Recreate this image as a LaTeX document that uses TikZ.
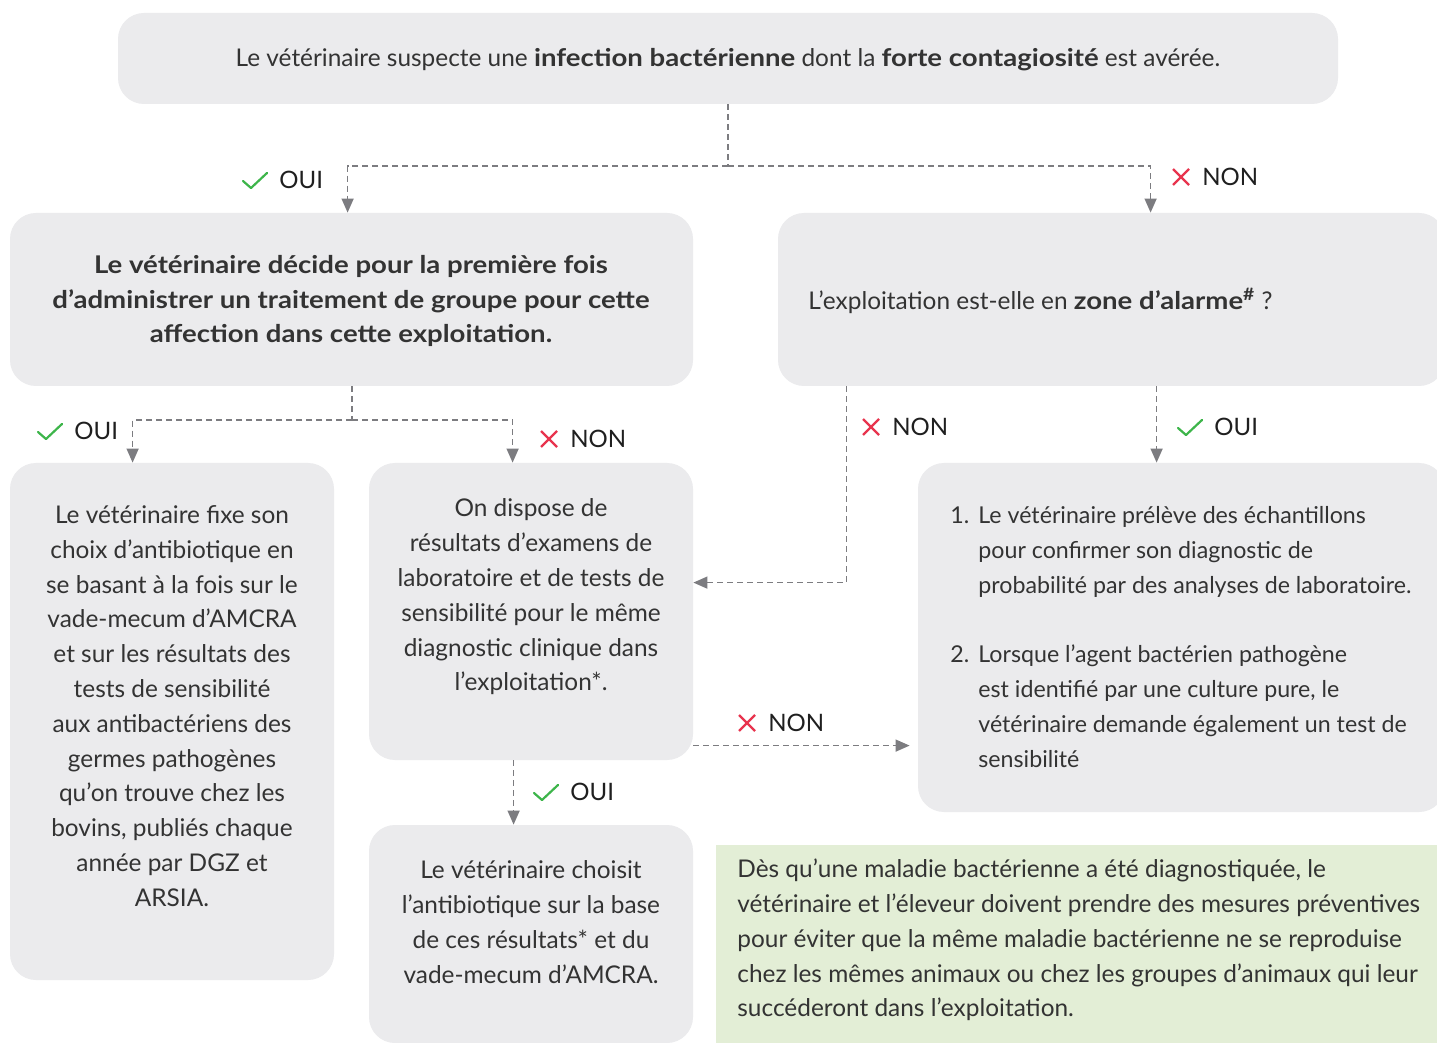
\documentclass[tikz,border=0pt]{standalone}
\usepackage{fontspec}
\setmainfont{Lato}[BoldFeatures={FakeStretch=1.13}]
\usetikzlibrary{arrows.meta,calc,fit}
\definecolor{boxgray}{HTML}{EBEBED}
\definecolor{txtc}{HTML}{333333}
\definecolor{conngray}{HTML}{7C7C80}
\definecolor{okgreen}{HTML}{3DB54A}
\definecolor{nored}{HTML}{E8344E}
\definecolor{notegreen}{HTML}{E3EED6}
\newcommand\ouilabel[3]{%
  \draw[okgreen,line width=1.1pt,line cap=round,line join=round] ({#2-36},{#3+1}) -- ({#2-28},{#3+8}) -- ({#2-12},{#3-7});
  \node[lbl] (#1) at (#2,#3) {OUI};}
\newcommand\nonlabel[3]{%
  \draw[nored,line width=1.1pt] ({#2-29},{#3-8}) -- ({#2-13},{#3+8}) ({#2-29},{#3+8}) -- ({#2-13},{#3-8});
  \node[lbl] (#1) at (#2,#3) {NON};}
\newcommand\txtsize{\fontsize{12.2}{17.4}\selectfont}
\newcommand\listsize{\fontsize{11.6}{17.4}\selectfont}
\begin{document}
\begin{tikzpicture}[x=0.5pt,y=-0.5pt,
  box/.style={fill=boxgray, draw=none, rounded corners=13pt, inner sep=0pt},
  txt/.style={text=txtc, inner sep=0pt, font=\txtsize},
  lbl/.style={text=black!88, inner sep=0pt, anchor=west, font=\fontsize{12}{15}\selectfont},
  conn/.style={draw=conngray, line width=0.7pt, dash pattern=on 3pt off 2pt},
  tip/.style={-{Triangle[length=7pt,width=6pt,fill=conngray]}}]
\useasboundingbox (0,0) rectangle (1437,1043);
\fill[white] (0,0) rectangle (1437,1043);

% boxes
\node[box, fit={(118,13) (1338,104)}] (top) {};
\node[box, fit={(10,213) (693,386)}] (b2l) {};
\node[box, fit={(778,213) (1445,386)}] (b2r) {};
\node[box, fit={(10,463) (334,980)}] (l3) {};
\node[box, fit={(369,463) (693,760)}] (m3) {};
\node[box, fit={(918,463) (1445,812)}] (r3) {};
\node[box, fit={(369,825) (693,1043)}] (m4) {};
\node[fill=notegreen, inner sep=0pt, fit={(716,845) (1445,1050)}] (note) {};

% texts
\node[txt] (t0) at (728,60) {Le vétérinaire suspecte une \textbf{infection bactérienne} dont la \textbf{forte contagiosité} est avérée.};
\node[txt, align=center, font=\txtsize\bfseries] (t1) at (351,301) {Le vétérinaire décide pour la première fois\\ d’administrer un traitement de groupe pour cette\\ affection dans cette exploitation.};
\node[txt, anchor=west] (t2) at (808,301) {L’exploitation est-elle en \textbf{zone d’alarme\textsuperscript{\#}} ?};
\node[txt, align=center] (t3) at (172,706) {Le vétérinaire fixe son\\ choix d’antibiotique en\\ se basant à la fois sur le\\ vade-mecum d’AMCRA\\ et sur les résultats des\\ tests de sensibilité\\ aux antibactériens des\\ germes pathogènes\\ qu’on trouve chez les\\ bovins, publiés chaque\\ année par DGZ et\\ ARSIA.};
\node[txt, align=center] (t4) at (531,597) {On dispose de\\ résultats d’examens de\\ laboratoire et de tests de\\ sensibilité pour le même\\ diagnostic clinique dans\\ l’exploitation*.};
\node[txt, align=left, anchor=north west, font=\listsize] (t5) at (950,506) {\makebox[14pt][l]{1.}Le vétérinaire prélève des échantillons\\ \hspace*{14pt}pour confirmer son diagnostic de\\ \hspace*{14pt}probabilité par des analyses de laboratoire.\\[17.4pt] \makebox[14pt][l]{2.}Lorsque l’agent bactérien pathogène\\ \hspace*{14pt}est identifié par une culture pure, le\\ \hspace*{14pt}vétérinaire demande également un test de\\ \hspace*{14pt}sensibilité};
\node[txt, align=center] (t6) at (531,922) {Le vétérinaire choisit\\ l’antibiotique sur la base\\ de ces résultats* et du\\ vade-mecum d’AMCRA.};
\node[txt, align=left, anchor=west] (t7) at (737,940) {Dès qu’une maladie bactérienne a été diagnostiquée, le\\ vétérinaire et l’éleveur doivent prendre des mesures préventives\\ pour éviter que la même maladie bactérienne ne se reproduise\\ chez les mêmes animaux ou chez les groupes d’animaux qui leur\\ succéderont dans l’exploitation.};

% connectors
\coordinate (j1) at (728,166);
\coordinate (j2) at (352,420);
\draw[conn] (top.south) -- (j1);
\draw[conn,tip] (j1) -| ($(b2l.north west)+(338,0)$);
\draw[conn,tip] (j1) -| ($(b2r.north west)+(373,0)$);
\draw[conn] (b2l.south -| j2) -- (j2);
\draw[conn,tip] (j2) -| ($(l3.north west)+(123,0)$);
\draw[conn,tip] (j2) -| ($(m3.north west)+(144,0)$);
\draw[conn,tip] ($(b2r.south west)+(69,0)$) |- ($(m3.north east)+(0,120)$);
\draw[conn,tip] ($(b2r.south west)+(379,0)$) -- ($(r3.north west)+(239,0)$);
\draw[conn,tip] ($(m3.north east)+(0,283)$) -- ($(r3.north west)+(-8,283)$);
\draw[conn,tip] ($(m3.south west)+(145,0)$) -- ($(m4.north west)+(145,0)$);

% labels
\ouilabel{oui1}{279}{180}
\nonlabel{non1}{1202}{177}
\ouilabel{oui2}{74}{431}
\nonlabel{non2}{570}{439}
\nonlabel{non3}{892}{427}
\ouilabel{oui3}{1214}{427}
\nonlabel{non4}{768}{723}
\ouilabel{oui4}{570}{792}
\end{tikzpicture}
\end{document}
